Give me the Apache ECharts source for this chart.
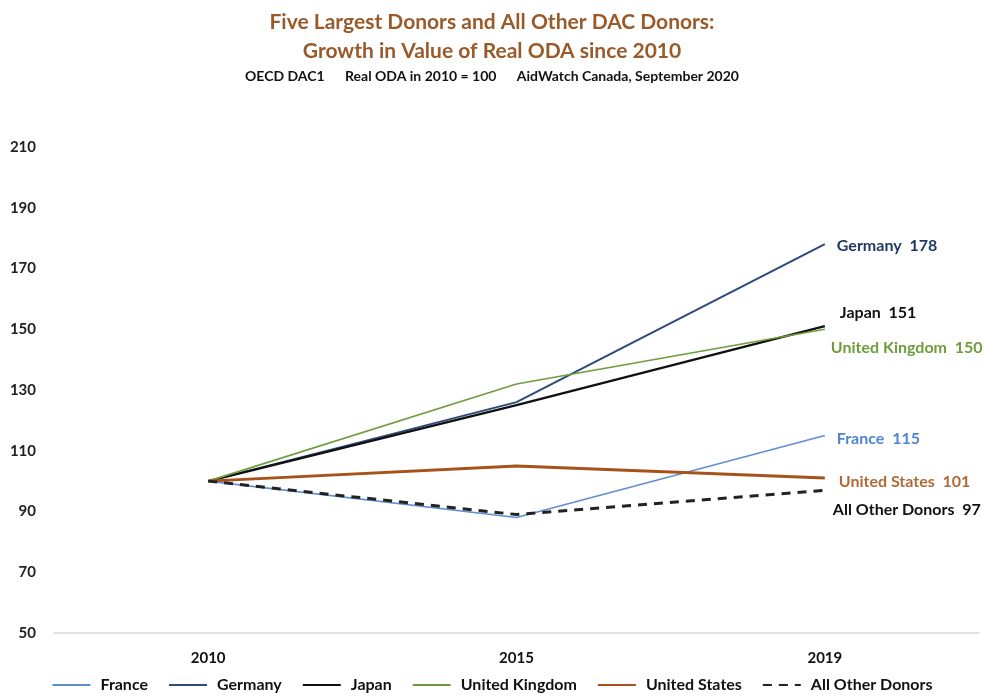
<!DOCTYPE html>
<html>
<head>
<meta charset="utf-8">
<script src="https://cdn.jsdelivr.net/npm/echarts@6/dist/echarts.min.js"></script>
<style>
  html, body { margin: 0; padding: 0; background: #fff; }
  #chart { width: 984px; height: 700px; }
</style>
</head>
<body>
<div id="chart"></div>
<script>
// Years on the horizontal axis
const years = ['2010', '2015', '2019'];

// Real ODA index, 2010 = 100
const france        = [100, 88, 115];
const germany       = [100, 126, 178];
const japan         = [100, 125, 151];
const unitedKingdom = [100, 132, 150];
const unitedStates  = [100, 105, 101];
const allOther      = [100, 89, 97];

const seriesNames = ['France', 'Germany', 'Japan', 'United Kingdom', 'United States', 'All Other Donors'];

// Line look and end-label placement for each donor
const looks = [
  { data: france,        color: '#5f8fd0', width: 1.6, type: 'solid', labelColor: '#4f86cf', offset: [6, 3] },
  { data: germany,       color: '#2c4a7a', width: 2,   type: 'solid', labelColor: '#1f3864', offset: [6, 2] },
  { data: japan,         color: '#111111', width: 2.4, type: 'solid', labelColor: '#111111', offset: [9, -13] },
  { data: unitedKingdom, color: '#6f9d3d', width: 1.6, type: 'solid', labelColor: '#6f9d3d', offset: [0, 19] },
  { data: unitedStates,  color: '#a8521b', width: 3,   type: 'solid', labelColor: '#b06a36', offset: [8, 4] },
  { data: allOther,      color: '#222222', width: 3,   type: [9, 7],  labelColor: '#111111', offset: [2, 20] }
];

const chart = echarts.init(document.getElementById('chart'), null, { renderer: 'canvas' });

const font = 'Lato, "Open Sans", sans-serif';

chart.setOption({
  animation: false,
  backgroundColor: '#ffffff',
  textStyle: { fontFamily: font },
  title: [
    {
      text: 'Five Largest Donors and All Other DAC Donors:\nGrowth in Value of Real ODA since 2010',
      left: 'center',
      top: 3,
      textStyle: { color: '#9a5a2a', fontSize: 21, fontWeight: 'bold', lineHeight: 29, fontFamily: font }
    },
    {
      text: 'OECD DAC1      Real ODA in 2010 = 100      AidWatch Canada, September 2020',
      left: 'center',
      top: 64,
      textStyle: { color: '#111111', fontSize: 14, fontWeight: 'bold', fontFamily: font }
    }
  ],
  grid: { left: 54, right: 5, top: 147, bottom: 67 },
  legend: {
    bottom: 2,
    left: 'center',
    itemGap: 20,
    itemWidth: 38,
    itemHeight: 12,
    data: seriesNames,
    // line-only legend keys (no marker dot)
    itemStyle: { opacity: 0 },
    textStyle: { color: '#111111', fontSize: 16, fontWeight: 'bold', fontFamily: font, padding: [0, 0, 0, 5] }
  },
  xAxis: {
    type: 'category',
    data: years,
    boundaryGap: true,
    axisLine: { show: true, lineStyle: { color: '#d9d9d9', width: 1.5 } },
    axisTick: { show: false },
    axisLabel: { color: '#111111', fontSize: 15, fontWeight: 'bold', margin: 18, fontFamily: font },
    splitLine: { show: false }
  },
  yAxis: {
    type: 'value',
    min: 50,
    max: 210,
    interval: 20,
    axisLine: { show: false },
    axisTick: { show: false },
    splitLine: { show: false },
    axisLabel: { color: '#222222', fontSize: 15, fontWeight: 'bold', margin: 18, fontFamily: font }
  },
  series: looks.map((s, i) => ({
    name: seriesNames[i],
    type: 'line',
    data: s.data,
    symbol: 'none',
    color: s.color,
    lineStyle: { color: s.color, width: s.width, type: s.type },
    endLabel: {
      show: true,
      offset: s.offset,
      distance: 6,
      color: s.labelColor,
      fontSize: 16,
      fontWeight: 'bold',
      fontFamily: font,
      formatter: p => p.seriesName + '  ' + p.value
    }
  }))
});
</script>
</body>
</html>
